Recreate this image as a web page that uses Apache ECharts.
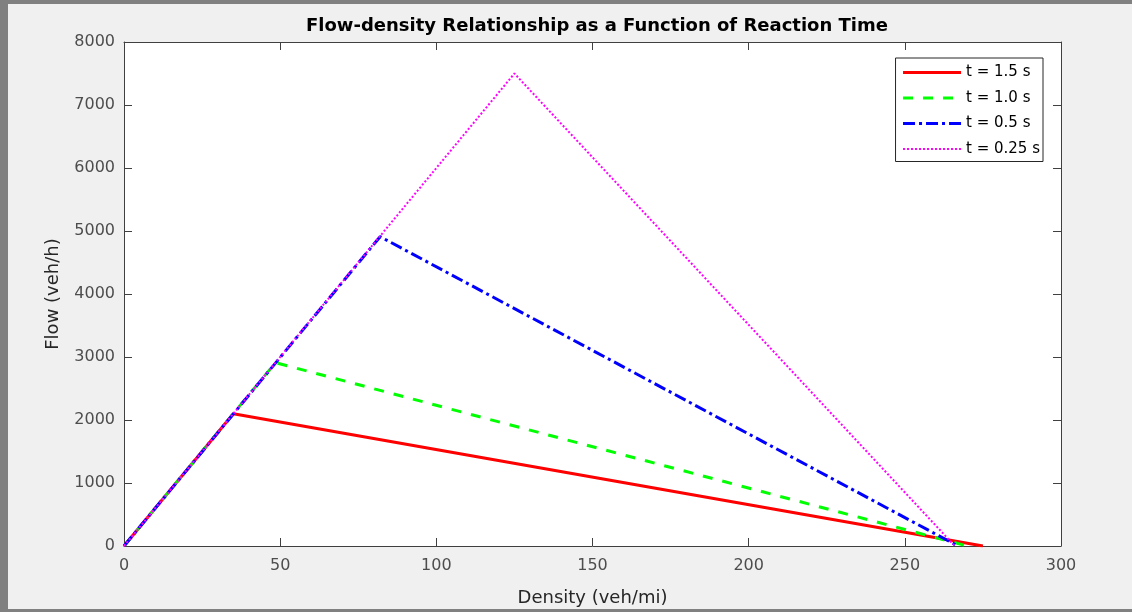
<!DOCTYPE html>
<html>
<head>
<meta charset="utf-8">
<script src="https://cdn.jsdelivr.net/npm/echarts@6/dist/echarts.min.js"></script>
<style>
  html, body { margin: 0; padding: 0; }
  body { width: 1132px; height: 612px; background: #f0f0f0; position: relative; overflow: hidden; }
  #frameTop { position: absolute; left: 0; top: 0; width: 1132px; height: 4px; background: #808080; }
  #frameLeft { position: absolute; left: 0; top: 0; width: 8px; height: 612px; background: #808080; }
  #frameBottom { position: absolute; left: 0; top: 609px; width: 1132px; height: 3px; background: #808080; }
  #chart { position: absolute; left: 0; top: 0; width: 1132px; height: 612px; }
</style>
</head>
<body>
<div id="frameTop"></div>
<div id="frameLeft"></div>
<div id="frameBottom"></div>
<div id="chart"></div>
<script>
// density (veh/mi), flow (veh/h) for each reaction time
const names = ["t = 1.5 s", "t = 1.0 s", "t = 0.5 s", "t = 0.25 s"];
const t15 = [[0, 0], [35, 2100], [275, 0]];
const t10 = [[0, 0], [48.5, 2910], [270, 0]];
const t05 = [[0, 0], [82, 4910], [267, 0]];
const t025 = [[0, 0], [125, 7500], [266, 0]];

const colors = ["#ff0000", "#00ff00", "#0000ff", "#ff00ff"];
const dashes = ["solid", [10, 10], [12, 4, 3, 4], [2, 2]];
const widths = [3, 3, 3, 2];
const seriesData = [t15, t10, t05, t025];

const axisColor = "#404040";
const labelColor = "#4d4d4d";
const font = "'DejaVu Sans', sans-serif";

const chart = echarts.init(document.getElementById("chart"));
chart.setOption({
  animation: false,
  backgroundColor: "transparent",
  title: {
    text: "Flow-density Relationship as a Function of Reaction Time",
    left: 592,
    textAlign: "center",
    top: 12,
    textStyle: { fontFamily: font, fontSize: 18, fontWeight: "bold", color: "#000" },
  },
  grid: { left: 124, right: 71, top: 42, bottom: 64, backgroundColor: "#fff", show: true, borderWidth: 0 },
  legend: {
    right: 89,
    top: 58,
    orient: "vertical",
    itemWidth: 58,
    itemHeight: 14,
    itemGap: 10.5,
    backgroundColor: "#fff",
    borderColor: "#262626",
    borderWidth: 1,
    borderRadius: 0,
    padding: [7, 3, 5, 6],
    itemStyle: { opacity: 0 },
    textStyle: { fontFamily: font, fontSize: 15, color: "#000", padding: [0, 0, 0, 0] },
    data: names.map((n, i) => ({
      name: n,
      lineStyle: { width: widths[i], color: colors[i], type: dashes[i] },
    })),
  },
  xAxis: [
    {
      type: "value",
      min: 0,
      max: 300,
      interval: 50,
      name: "Density (veh/mi)",
      nameLocation: "middle",
      nameGap: 43,
      nameTextStyle: { fontFamily: font, fontSize: 18, color: "#262626" },
      axisLine: { onZero: false, lineStyle: { color: axisColor, width: 1 } },
      axisTick: { inside: true, length: 8, lineStyle: { color: axisColor } },
      axisLabel: { fontFamily: font, fontSize: 16, color: labelColor, margin: 12, formatter: (v) => String(v) },
      splitLine: { show: false },
    },
    {
      type: "value",
      position: "top",
      min: 0,
      max: 300,
      interval: 50,
      axisLine: { onZero: false, lineStyle: { color: axisColor, width: 1 } },
      axisTick: { inside: true, length: 8, lineStyle: { color: axisColor } },
      axisLabel: { show: false },
      splitLine: { show: false },
    },
  ],
  yAxis: [
    {
      type: "value",
      min: 0,
      max: 8000,
      interval: 1000,
      name: "Flow (veh/h)",
      nameLocation: "middle",
      nameGap: 62,
      nameTextStyle: { fontFamily: font, fontSize: 18, color: "#262626" },
      axisLine: { onZero: false, lineStyle: { color: axisColor, width: 1 } },
      axisTick: { inside: true, length: 8, lineStyle: { color: axisColor } },
      axisLabel: { fontFamily: font, fontSize: 16, color: labelColor, margin: 9, formatter: (v) => String(v) },
      splitLine: { show: false },
    },
    {
      type: "value",
      position: "right",
      min: 0,
      max: 8000,
      interval: 1000,
      axisLine: { show: true, onZero: false, lineStyle: { color: axisColor, width: 1 } },
      axisTick: { show: true, inside: true, length: 8, lineStyle: { color: axisColor } },
      axisLabel: { show: false },
      splitLine: { show: false },
    },
  ],
  series: seriesData.map((d, i) => ({
    name: names[i],
    type: "line",
    data: d,
    symbol: "none",
    color: colors[i],
    lineStyle: { color: colors[i], width: widths[i], type: dashes[i] },
    z: 2 + i,
  })),
});
</script>
</body>
</html>
